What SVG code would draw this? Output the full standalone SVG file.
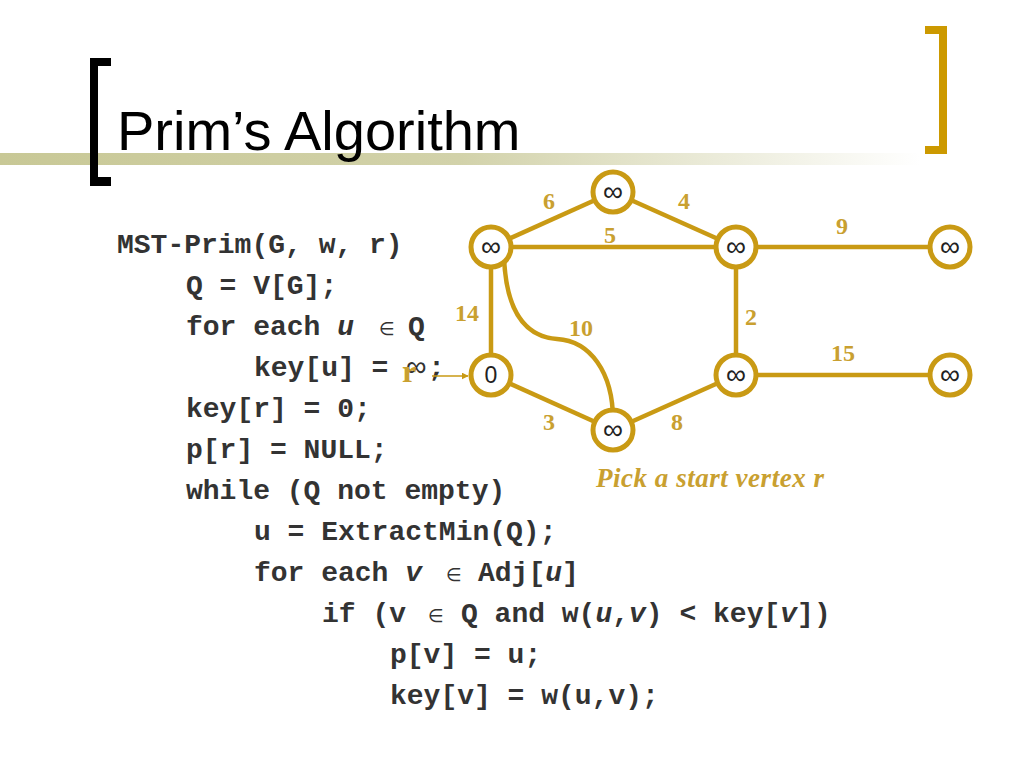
<svg xmlns="http://www.w3.org/2000/svg" width="1024" height="768" viewBox="0 0 1024 768">
<defs>
<linearGradient id="bar" x1="0" y1="0" x2="1" y2="0">
<stop offset="0" stop-color="#C8C896"/>
<stop offset="0.5" stop-color="#D2D2AA"/>
<stop offset="1" stop-color="#FFFFFF"/>
</linearGradient>
<marker id="arr" viewBox="0 0 10 10" refX="9" refY="5" markerWidth="7" markerHeight="7" markerUnits="userSpaceOnUse" orient="auto">
<path d="M0 0 L10 5 L0 10 Z" fill="#C99A14"/>
</marker>
<style>
.code{font-family:"Liberation Mono","Courier New",monospace;font-weight:bold;font-size:28px;fill:#333333}
.it{font-style:italic}
.sym{font-family:"DejaVu Sans","Liberation Sans",sans-serif;font-weight:normal;font-size:18px}
.inf{font-family:"Liberation Sans","DejaVu Sans",sans-serif;font-weight:normal;font-size:29px}
.edge{stroke:#C99A14;stroke-width:4.5;fill:none}
.node circle{fill:#FFFFFF;stroke:#C99A14;stroke-width:5}
.node text{font-family:"Liberation Sans",Arial,sans-serif;font-size:28px;fill:#222222;text-anchor:middle}
.node text.zero{font-size:23px}
.wl{font-family:"Liberation Serif","Times New Roman",serif;font-weight:bold;font-size:24px;fill:#C9A030;text-anchor:middle}
</style>
</defs>
<rect width="1024" height="768" fill="#FFFFFF"/>
<rect x="0" y="153" width="920" height="12" fill="url(#bar)"/>
<path d="M90 58 H111 V66 H98 V177 H111 V186 H90 Z" fill="#000000"/>
<path d="M925 26 H947 V154 H925 V146 H939 V34 H925 Z" fill="#CC9900"/>
<text x="117" y="150" font-family="Liberation Sans, Arial, sans-serif" font-size="56" fill="#000000">Prim’s Algorithm</text>

<g id="code" class="code">
<text x="117" y="253">MST-Prim(G, w, r)</text>
<text x="186" y="294">Q = V[G];</text>
<text x="186" y="335">for each <tspan class="it">u</tspan><tspan class="sym" x="379">∈</tspan><tspan x="408">Q</tspan></text>
<text x="254" y="376">key[u] = <tspan class="inf" x="406">∞</tspan><tspan x="428">;</tspan></text>
<text x="186" y="417">key[r] = 0;</text>
<text x="186" y="458">p[r] = NULL;</text>
<text x="186" y="499">while (Q not empty)</text>
<text x="254" y="540">u = ExtractMin(Q);</text>
<text x="254" y="581">for each <tspan class="it">v</tspan><tspan class="sym" x="446">∈</tspan><tspan x="478">Adj[<tspan class="it">u</tspan>]</tspan></text>
<text x="322" y="622">if (v<tspan class="sym" x="428">∈</tspan><tspan x="461">Q and w(<tspan class="it">u</tspan>,<tspan class="it">v</tspan>) &lt; key[<tspan class="it">v</tspan>])</tspan></text>
<text x="390" y="663">p[v] = u;</text>
<text x="390" y="704">key[v] = w(u,v);</text>
</g>

<g id="connectors">
<line class="edge" x1="491" y1="247" x2="613" y2="192"/>
<line class="edge" x1="613" y1="192" x2="736" y2="247"/>
<line class="edge" x1="491" y1="247" x2="736" y2="247"/>
<line class="edge" x1="736" y1="247" x2="950" y2="247"/>
<line class="edge" x1="491" y1="247" x2="491" y2="375"/>
<path class="edge" d="M504 256 C506 318 530 337 557 339 C590 341 613 372 613 420"/>
<line class="edge" x1="736" y1="247" x2="736" y2="375"/>
<line class="edge" x1="736" y1="375" x2="950" y2="375"/>
<line class="edge" x1="491" y1="375" x2="613" y2="430"/>
<line class="edge" x1="613" y1="430" x2="736" y2="375"/>
<line x1="432" y1="376" x2="468" y2="376" stroke="#C99A14" stroke-width="1.6" marker-end="url(#arr)"/>
<text class="wl" x="549" y="209">6</text>
<text class="wl" x="684" y="209">4</text>
<text class="wl" x="610" y="243">5</text>
<text class="wl" x="842" y="234">9</text>
<text class="wl" x="467" y="321">14</text>
<text class="wl" x="581" y="336">10</text>
<text class="wl" x="751" y="325">2</text>
<text class="wl" x="843" y="361">15</text>
<text class="wl" x="549" y="430">3</text>
<text class="wl" x="677" y="430">8</text>
</g>

<g id="n-top" class="node"><circle cx="613" cy="192" r="20"/><text x="613" y="201">∞</text></g>
<g id="n-a" class="node"><circle cx="491" cy="247" r="20"/><text x="491" y="256">∞</text></g>
<g id="n-b" class="node"><circle cx="736" cy="247" r="20"/><text x="736" y="256">∞</text></g>
<g id="n-c" class="node"><circle cx="950" cy="247" r="20"/><text x="950" y="256">∞</text></g>
<g id="n-r" class="node"><circle cx="491" cy="375" r="20"/><text class="zero" x="491" y="383">0</text></g>
<g id="n-d" class="node"><circle cx="736" cy="375" r="20"/><text x="736" y="384">∞</text></g>
<g id="n-e" class="node"><circle cx="950" cy="375" r="20"/><text x="950" y="384">∞</text></g>
<g id="n-bot" class="node"><circle cx="613" cy="430" r="20"/><text x="613" y="439">∞</text></g>

<text x="409" y="382" font-family="Liberation Serif, Times New Roman, serif" font-weight="bold" font-size="32" fill="#C9A030" text-anchor="middle">r</text>
<text x="596" y="487" font-family="Liberation Serif, Times New Roman, serif" font-weight="bold" font-style="italic" font-size="27" fill="#C9A030" textLength="228">Pick a start vertex r</text>
</svg>
